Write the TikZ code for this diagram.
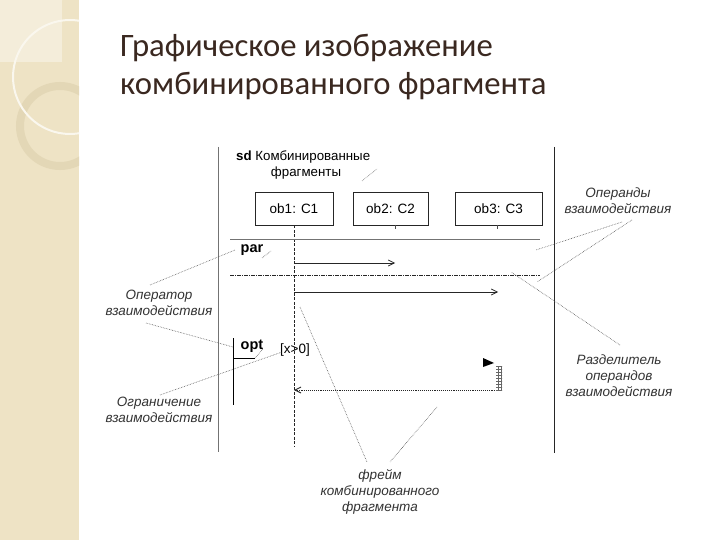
\documentclass[tikz,border=0pt]{standalone}
\usepackage{fontspec}
\setmainfont{Carlito}
\newfontfamily\diagfont{Liberation Sans}
\usetikzlibrary{arrows.meta,patterns}
\definecolor{stripbg}{HTML}{EEE3C5}
\definecolor{stripltr}{HTML}{F4EDDA}
\definecolor{ringc}{HTML}{E3D7B6}
\definecolor{titlec}{HTML}{3A2820}
\definecolor{leadc}{HTML}{555555}
\tikzset{
  lbl/.style={font=\diagfont\itshape\fontsize{13.5}{16}\selectfont, text=black!80, align=center, inner sep=1pt},
  objbox/.style={draw=black!85, line width=0.8pt, minimum height=33pt, inner sep=0pt, font=\diagfont\fontsize{13.5}{15}\selectfont},
  leader/.style={draw=leadc, densely dotted, line width=0.6pt},
  msg/.style={draw=black!85, line width=0.7pt, -{Straight Barb[length=6pt,width=6pt]}},
  frameline/.style={draw=black!55, line width=0.8pt},
  opname/.style={font=\diagfont\bfseries\fontsize{14.5}{16}\selectfont, inner sep=1pt},
}
\begin{document}
\begin{tikzpicture}[x=1pt,y=-1pt]
\useasboundingbox (0,0) rectangle (720,540);
\fill[white] (0,0) rectangle (720,540);
% decorative strip
\begin{scope}
\clip (0,0) rectangle (79,540);
\fill[stripbg] (0,0) rectangle (79,540);
\fill[stripltr] (0,0) rectangle (62,62);
\draw[ringc, line width=8pt] (60,126) circle[radius=40];
\draw[white!70!stripbg, line width=2pt] (70,77) circle[radius=57];
\draw[white!60!stripbg, line width=1.5pt] (63,0) arc[start angle=0, end angle=-80, radius=62];
\end{scope}
% title
\node[anchor=base west, inner sep=0, text=titlec, font=\fontsize{32.7}{38}\selectfont] (t1) at (120,57) {Графическое изображение};
\node[anchor=base west, inner sep=0, text=titlec, font=\fontsize{32.7}{38}\selectfont] (t2) at (120,95) {комбинированного фрагмента};
% frame sides
\coordinate (fl1) at (218,147); \coordinate (fl2) at (218,452);
\coordinate (fr1) at (554,147); \coordinate (fr2) at (554,453);
\draw[frameline] (fl1) -- (fl2);
\draw[draw=black!85, line width=1pt] (fr1) -- (fr2);
% sd label
\node[anchor=base west, inner sep=0, font=\diagfont\fontsize{13.3}{14}\selectfont] (sd) at (236,161) {\textbf{sd} Комбинированные};
\node[anchor=base, inner sep=0, font=\diagfont\fontsize{13.3}{14}\selectfont] (sd2) at (306,177) {фрагменты};
\coordinate (sdA) at (362,181); \coordinate (sdB) at (377,169);
\draw[leader] (sdA) -- (sdB);
% objects
\node[objbox, minimum width=78pt] (ob1) at (294,208.5) {ob1: C1};
\node[objbox, minimum width=75pt] (ob2) at (390.5,208.5) {ob2: C2};
\node[objbox, minimum width=87pt] (ob3) at (498.5,208.5) {ob3: C3};
\coordinate (ll1) at (294,447);
\draw[black!85, line width=0.7pt, dash pattern=on 3pt off 1.5pt] (ob1.south) -- (ll1);
\coordinate (t2a) at (395,225); \coordinate (t2b) at (395,229);
\coordinate (t3a) at (497,225); \coordinate (t3b) at (497,229);
\draw[black!70, line width=0.6pt] (t2a) -- (t2b);
\draw[black!70, line width=0.6pt] (t3a) -- (t3b);
% par fragment
\coordinate (parL) at (230,239); \coordinate (parR) at (540,239);
\draw[draw=black!55, line width=0.8pt] (parL) -- (parR);
\node[opname] (par) at (252,250) {par};
\coordinate (parT1) at (262,258); \coordinate (parT2) at (271,251);
\draw[leader] (parT1) -- (parT2);
\coordinate (sepL) at (230,275); \coordinate (sepR) at (540,275);
\draw[black!85, line width=0.7pt, dash pattern=on 4pt off 1pt on 1pt off 1pt] (sepL) -- (sepR);
\coordinate (m1a) at (294,263); \coordinate (m1b) at (395,263);
\coordinate (m2a) at (294,292); \coordinate (m2b) at (498,292);
\draw[msg] (m1a) -- (m1b);
\draw[msg] (m2a) -- (m2b);
% opt fragment
\coordinate (optT) at (233,338); \coordinate (optB) at (233,405);
\draw[black, line width=1pt] (optT) -- (optB);
\node[opname] (opt) at (252,346) {opt};
\coordinate (ou1) at (233,358); \coordinate (ou2) at (255,358); \coordinate (ou3) at (263,349);
\draw[black, line width=0.8pt] (ou1) -- (ou2);
\draw[leader] (ou2) -- (ou3);
\node[inner sep=1pt, font=\diagfont\fontsize{13.5}{14}\selectfont] (guard) at (295,350) {[x>0]};
% reply
\coordinate (ra) at (499,390); \coordinate (rb) at (294,390);
\draw[black!85, densely dotted, line width=0.9pt, -{Straight Barb[length=6pt,width=6pt]}] (ra) -- (rb);
\fill[pattern=grid, pattern color=black!60] (496,366) rectangle (502,390);
\coordinate (fg1) at (483,358); \coordinate (fg2) at (494,363); \coordinate (fg3) at (483,367);
\fill[black] (fg1) -- (fg2) -- (fg3) -- cycle;
% annotations
\node[lbl] (opd) at (618,201) {Операнды\\взаимодействия};
\node[lbl] (sep) at (619,376) {Разделитель\\операндов\\взаимодействия};
\node[lbl] (opr) at (159,303) {Оператор\\взаимодействия};
\node[lbl] (cons) at (159,410) {Ограничение\\взаимодействия};
\node[lbl] (frm) at (380,492) {фрейм\\комбинированного\\фрагмента};
% leaders
\coordinate (o1) at (622,222); \coordinate (o1e) at (536,250);
\coordinate (o2) at (632,220); \coordinate (o2e) at (537,282);
\draw[leader] (o1) -- (o1e);
\draw[leader] (o2) -- (o2e);
\coordinate (s1) at (620,345); \coordinate (s1e) at (511,272);
\draw[leader] (s1) -- (s1e);
\coordinate (p1) at (150,285); \coordinate (p1e) at (235,250);
\coordinate (p2) at (146,323); \coordinate (p2e) at (233,347);
\draw[leader] (p1) -- (p1e);
\draw[leader] (p2) -- (p2e);
\coordinate (c1) at (160,395); \coordinate (c1e) at (282,352);
\draw[leader] (c1) -- (c1e);
\coordinate (f1) at (300,307); \coordinate (f1e) at (367,462);
\coordinate (f2) at (437,407); \coordinate (f2e) at (390,462);
\draw[leader] (f1) -- (f1e);
\draw[leader] (f2) -- (f2e);
\end{tikzpicture}
\end{document}
